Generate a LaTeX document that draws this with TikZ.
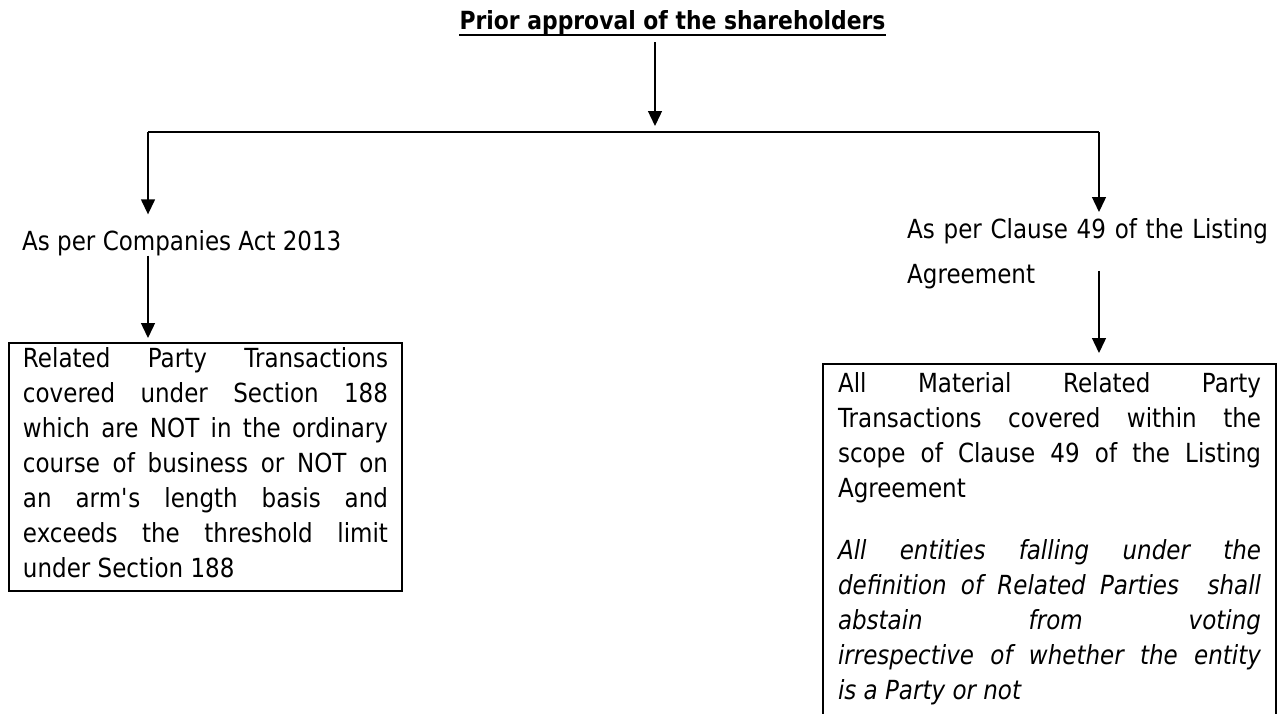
\documentclass[tikz,border=0pt]{standalone}
\usepackage{fontspec}
\setmainfont{DejaVu Sans}[FakeStretch=0.875]
\usetikzlibrary{arrows.meta,calc}
\setlength{\parindent}{0pt}
% one justified line of a box
\newcommand\jl[1]{\makebox[\hsize][s]{#1}\par}
\tikzset{
  titulo/.style = {anchor=base, inner sep=0pt, font=\fontsize{25}{30}\selectfont\bfseries},
  texto/.style  = {inner sep=0pt, font=\fontsize{26.3}{35}\selectfont},
  cuadro/.style = {draw, line width=2pt, inner xsep=14pt, inner ysep=0pt,
                   align=justify, anchor=north west, font=\fontsize{26.3}{35}\selectfont},
  flecha/.style = {-{Triangle[width=14pt,length=15pt]}, line width=1.4pt},
  linea/.style  = {line width=1.4pt},
}
\begin{document}
\begin{tikzpicture}[x=1pt, y=-1pt]
  \useasboundingbox (0,0) rectangle (1279,713);
  \clip (0,0) rectangle (1279,713);

  \node[titulo] (title) at (672.5,29.5) {Prior approval of the shareholders};
  \draw[line width=2.6pt] ([yshift=-5.5pt]title.base west) -- ([yshift=-5.5pt]title.base east);

  \coordinate (split) at (655,132);
  \coordinate (bl) at (148,132);
  \coordinate (br) at (1099,132);

  \node[texto, anchor=base west] (act) at (22,250) {As per Companies Act 2013};
  \node[texto, anchor=north west, text width=420pt, align=left,
        font=\fontsize{26.3}{45}\selectfont] (clause) at (907,218)
        {\rule{0pt}{19pt}As per Clause 49 of the Listing\\Agreement};

  \node[cuadro, text width=365pt] (rpt) at (8,342) {%
    \jl{\rule{0pt}{24pt}Related Party Transactions}
    \jl{covered under Section 188}
    \jl{which are NOT in the ordinary}
    \jl{course of business or NOT on}
    \jl{an arm\textquotesingle s length basis and}
    \jl{exceeds the threshold limit}
    under Section 188\rule[-14pt]{0pt}{14pt}};

  \node[cuadro, text width=423pt, inner xsep=15pt] (mat) at (822,363) {%
    \jl{\rule{0pt}{28pt}All Material Related Party}
    \jl{Transactions covered within the}
    \jl{scope of Clause 49 of the Listing}
    Agreement\par\vspace{27pt}
    \itshape
    \jl{All entities falling under the}
    \jl{definition of Related Parties~~shall}
    \jl{abstain from voting}
    \jl{irrespective of whether the entity}
    is a Party or not\rule[-40pt]{0pt}{40pt}};

  \draw[flecha, shorten <=7.5pt, shorten >=6pt] (title.south -| split) -- (split);
  \draw[linea] (bl) -- (br);
  \draw[flecha, shorten >=15.5pt] (bl) -- (bl |- act.north);
  \draw[flecha, shorten >=6pt] (br) -- (br |- clause.north);
  \draw[flecha, shorten >=4pt] (act.south -| bl) -- (rpt.north -| bl);
  \draw[flecha, shorten <=-18pt, shorten >=10pt] (clause.south -| br) -- (mat.north -| br);
\end{tikzpicture}
\end{document}
